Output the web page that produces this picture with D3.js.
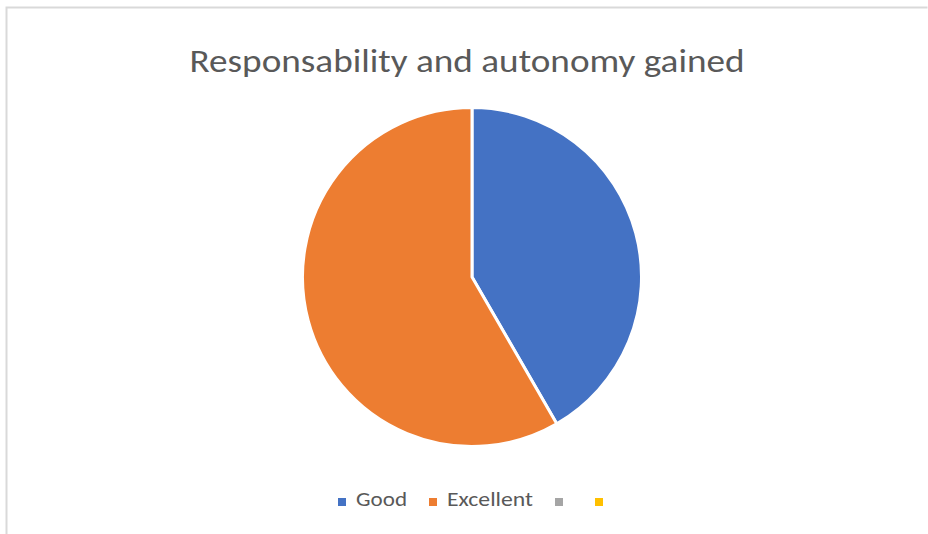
<!DOCTYPE html>
<html><head><meta charset="utf-8">
<script src="https://cdn.jsdelivr.net/npm/d3@7"></script>
<style>html,body{margin:0;padding:0;background:#fff;}svg{display:block;}</style>
</head><body>
<svg id="chart" width="928" height="534"></svg>
<script>
const title = "Responsability and autonomy gained";
const categories = ["Good", "Excellent", "", ""];
const values = [5, 7, 0, 0];
const colors = ["#4472C4", "#ED7D31", "#A5A5A5", "#FFC000"];

const svg = d3.select("#chart");
const W = 928, H = 534;
const font = "Calibri, Carlito, 'Open Sans', 'Noto Sans', sans-serif";

// frame
svg.append("path").attr("d", "M6.5,540 V7.5 H927.5").attr("fill", "none").attr("stroke", "#d9d9d9").attr("stroke-width", 2);

// title
const t = svg.append("text").attr("x", 467).attr("y", 72).attr("text-anchor", "middle")
  .attr("font-family", font).attr("font-size", 32).attr("fill", "#595959").text(title);
const tw = t.node().getComputedTextLength();
if (tw > 0) t.attr("textLength", 555).attr("lengthAdjust", "spacingAndGlyphs");

// pie
const cx = 472, cy = 277, r = 169.5;
const pie = d3.pie().sort(null).value(d => d.v);
const arc = d3.arc().innerRadius(0).outerRadius(r);
const data = categories.map((c, i) => ({c, v: values[i], col: colors[i]}));
const g = svg.append("g").attr("transform", `translate(${cx},${cy})`);
g.selectAll("path").data(pie(data).filter(d => d.data.v > 0)).join("path")
  .attr("d", arc).attr("fill", d => d.data.col)
  .attr("stroke", "#fff").attr("stroke-width", 3).attr("stroke-linejoin", "round");

// legend
const lg = svg.append("g");
let x = 0;
const items = [];
data.forEach((d, i) => {
  const it = lg.append("g");
  it.append("rect").attr("x", x).attr("y", -8).attr("width", 8).attr("height", 8).attr("fill", d.col);
  const tx = it.append("text").attr("x", x + 18).attr("y", 0).attr("font-family", font)
    .attr("font-size", 20).attr("fill", "#595959").text(d.c);
  let w = d.c ? tx.node().getComputedTextLength() : 0;
  const targets = {"Good": 51, "Excellent": 86};
  if (d.c && targets[d.c]) { tx.attr("textLength", targets[d.c]).attr("lengthAdjust", "spacingAndGlyphs"); w = targets[d.c]; }
  x += 18 + w + 22;
});
const totalW = x - 22 - (0) ;
lg.attr("transform", `translate(${338},${506})`);
</script>
</body></html>
